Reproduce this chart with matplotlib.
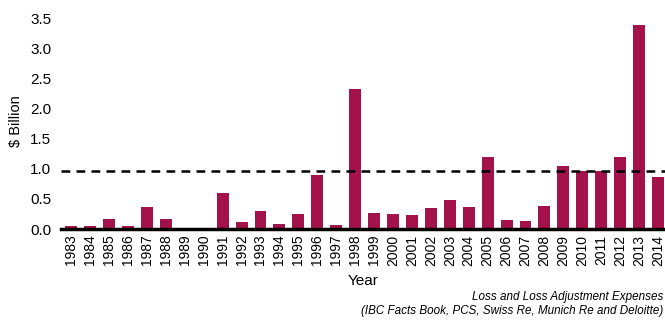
import numpy as np
import matplotlib
matplotlib.use("Agg")
import matplotlib.pyplot as plt

plt.rcParams['font.family'] = ['Liberation Sans', 'DejaVu Sans']

# ---- data ----
years = [str(y) for y in range(1983, 2015)]
losses = [0.05, 0.05, 0.16, 0.05, 0.36, 0.16, 0.01, 0.01, 0.60, 0.12,
          0.30, 0.08, 0.25, 0.90, 0.07, 2.32, 0.26, 0.25, 0.23, 0.35,
          0.48, 0.36, 1.19, 0.15, 0.14, 0.38, 1.04, 0.96, 0.97, 1.20,
          3.38, 0.87]
average = 0.96

bar_color = '#a3124a'

fig = plt.figure(figsize=(6.65, 3.2), dpi=100)
ax = fig.add_axes([0.092, 0.284, 0.908, 0.678])

x = np.arange(len(years))
ax.bar(x, losses, width=0.63, color=bar_color, zorder=2)
ax.axhline(average, color='black', linestyle=(0, (3.5, 2.5)), linewidth=1.8, zorder=3)

ax.set_xlim(-0.53, len(years) - 1 + 0.37)
ax.set_ylim(0, 3.6)
ax.set_yticks(np.arange(0, 3.6, 0.5))
ax.set_yticklabels(['%.1f' % v for v in np.arange(0, 3.6, 0.5)], fontsize=11)
ax.set_xticks(x)
ax.set_xticklabels(years, rotation=90, fontsize=10)
ax.tick_params(axis='both', length=0)
ax.tick_params(axis='x', pad=4)
ax.tick_params(axis='y', pad=7)

for s in ['top', 'right', 'left']:
    ax.spines[s].set_visible(False)
ax.spines['bottom'].set_linewidth(2.5)
ax.spines['bottom'].set_zorder(4)

ax.set_ylabel('$ Billion', fontsize=10.5, labelpad=5)
ax.set_xlabel('Year', fontsize=11, labelpad=6)

fig.text(0.997, 1 - 297 / 320, 'Loss and Loss Adjustment Expenses',
         ha='right', va='center', fontsize=8.4, style='italic')
fig.text(0.998, 1 - 311 / 320, '(IBC Facts Book, PCS, Swiss Re, Munich Re and Deloitte)',
         ha='right', va='center', fontsize=8.4, style='italic')

plt.savefig('out.png', dpi=100)
